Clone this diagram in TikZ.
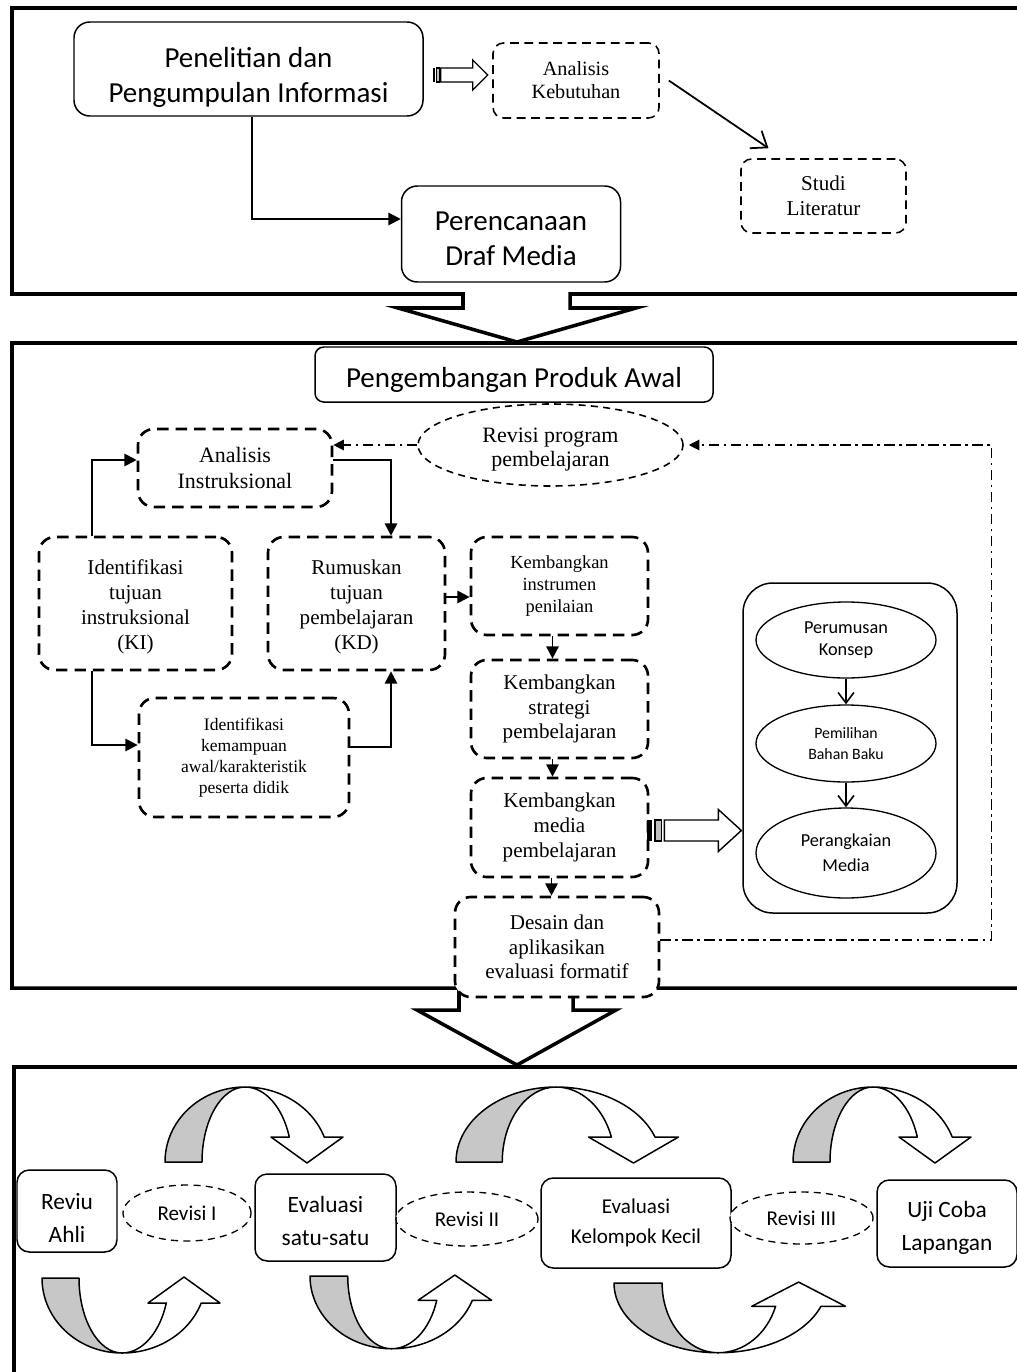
\documentclass[tikz,border=0pt]{standalone}
\usepackage{fontspec}
\setmainfont{Liberation Serif}
\newfontfamily\calfont{Carlito}
\usepackage{tikz}
\usetikzlibrary{arrows.meta,calc,shapes.geometric}

\newlength\pxu
\setlength\pxu{0.02cm}
\newcommand{\lift}[1]{\rule{0pt}{#1}}

\newcommand{\stripearrow}[6]{%
  \begin{scope}[shift={#1}]
    \fill (0,-#5) rectangle (0.3*#2,#5) ;
    \draw [fill=black!25, line width=0.6pt] (0.45*#2,-#5) rectangle (0.85*#2,#5) ;
    \draw [fill=white, line width=0.8pt] (#2,-#5) -- (#3,-#5) -- (#3,-#6) -- (#4,0) -- (#3,#6) -- (#3,#5) -- (#2,#5) -- cycle ;
  \end{scope}}

\newcommand{\bandarrow}[3]{%
  \begin{scope}[shift={#1}, xscale=#2, yscale=#3]
    \draw [band, fill=black!22] (0,0) .. controls (0,-41.4) and (35.8,-75) .. (80,-75)
      .. controls (56.3,-75) and (37,-41.4) .. (37,0) -- cycle ;
    \draw [band, fill=white] (80,-75) .. controls (115.6,-75) and (147.3,-55) .. (159.2,-25)
      -- (178,-25) -- (142,1) -- (106,-25) -- (124.3,-25)
      .. controls (117.7,-55) and (99.9,-75) .. (80,-75) -- cycle ;
  \end{scope}}

\begin{document}
\begin{tikzpicture}[x=0.02cm, y=-0.02cm,
  sz/.style 2 args={minimum width=#1*\pxu, minimum height=#2*\pxu},
  fs/.style 2 args={font=\fontsize{#1}{#2}\selectfont},
  cfs/.style 2 args={font=\calfont\fontsize{#1}{#2}\selectfont},
  frame/.style={line width=2pt, line join=miter},
  plainbox/.style={draw, line width=0.85pt, rounded corners=8pt, inner sep=0pt, align=center, fill=white},
  thinbox/.style={draw, line width=0.9pt, dash pattern=on 5pt off 3.2pt, rounded corners=6pt, inner sep=0pt, align=center, fill=white},
  thickbox/.style={draw, line width=1.5pt, dash pattern=on 6.5pt off 4pt, rounded corners=9pt, inner sep=0pt, align=center, fill=white},
  oval/.style={draw, ellipse, line width=0.75pt, inner sep=0pt, align=center, fill=white},
  dashoval/.style={oval, dash pattern=on 4pt off 3pt},
  conn/.style={line width=1.1pt, -{Triangle[length=7pt,width=7pt]}},
  barb/.style={line width=1pt, -{Straight Barb[length=8pt,width=12pt]}},
  vbarb/.style={line width=0.9pt, -{Straight Barb[length=6pt,width=9pt]}},
  dd/.style={line width=0.7pt, dash pattern=on 6pt off 2.5pt on 1.5pt off 2.5pt, -{Triangle[length=6pt,width=6pt]}},
  band/.style={line width=0.85pt, line join=round}]

\useasboundingbox (0,0) rectangle (1017,1372) ;
\clip (0,0) rectangle (1017,1372) ;

\draw [frame] (1030,8) -- (12,8) -- (12,294) -- (463,294) -- (463,308) -- (398,308) -- (517,342) -- (636,308) -- (570,308) -- (570,294) -- (1030,294) ;
\draw [frame] (1030,343) -- (12,343) -- (12,988) -- (459,988) -- (459,1010) -- (417,1010) -- (517,1065) -- (616,1010) -- (573,1010) -- (573,988) -- (1030,988) ;
\draw [frame] (1030,1067) -- (14,1067) -- (14,1380) ;

\node [plainbox, cfs={16.5}{19.5}, sz={349}{94}, rounded corners=9pt] (penelitian) at (248.5,69) {\lift{21pt}Penelitian dan\\Pengumpulan Informasi} ;
\node [thinbox, fs={11.5}{13}, sz={166}{75}] (kebutuhan) at (576,80.5) {Analisis\\Kebutuhan} ;
\node [thinbox, fs={12}{14.5}, sz={165}{74}] (literatur) at (823.5,196) {Studi\\Literatur} ;
\node [plainbox, cfs={16.5}{19.5}, sz={219}{96}, rounded corners=9pt] (perencanaan) at (511,234) {\lift{16pt}Perencanaan\\Draf Media} ;

\draw [conn] ($(penelitian.south)+(3.5,0)$) |- ($(perencanaan.west)+(0,-15)$) ;
\stripearrow{($(penelitian.east)+(9,6)$)}{8}{40}{55}{7}{15}
\draw [barb] ($(kebutuhan.east)+(9,0)$) -- ($(literatur.north)+(-55,-10)$) ;

\node [plainbox, cfs={16.5}{19.5}, sz={398}{55}, rounded corners=5pt] (produk) at (514,374.5) {\lift{18pt}Pengembangan Produk Awal} ;
\node [dashoval, fs={12.5}{13.5}, sz={265}{82}, line width=0.9pt] (revprog) at (550.5,445) {\lift{13.5pt}Revisi program\\pembelajaran} ;
\node [thickbox, fs={12.5}{14.5}, sz={194}{78}] (analisis) at (235,468) {Analisis\\Instruksional} ;
\node [thickbox, fs={12}{14.2}, sz={193}{133}] (idtujuan) at (135.5,603.5) {\lift{12pt}Identifikasi\\tujuan\\instruksional\\(KI)} ;
\node [thickbox, fs={12}{14.2}, sz={177}{133}] (rumuskan) at (356.5,603.5) {\lift{12pt}Rumuskan\\tujuan\\pembelajaran\\(KD)} ;
\node [thickbox, fs={10}{12}, sz={210}{119}] (idawal) at (244,757.5) {Identifikasi\\kemampuan\\awal/karakteristik\\peserta didik} ;
\node [thickbox, fs={10.5}{12.5}, sz={177}{98}] (instrumen) at (559.5,586) {Kembangkan\\instrumen\\penilaian} ;
\node [thickbox, fs={12}{14}, sz={177}{98}] (strategi) at (559.5,709) {Kembangkan\\strategi\\pembelajaran} ;
\node [thickbox, fs={12}{14}, sz={177}{99}] (media) at (559.5,827.5) {Kembangkan\\media\\pembelajaran} ;
\node [thickbox, fs={12}{13.8}, sz={204}{100}] (desain) at (557,947) {Desain dan\\aplikasikan\\evaluasi formatif} ;

\node [draw, line width=0.85pt, rounded corners=17pt, sz={214}{330}] (wadah) at (850,748) {} ;
\node [oval, cfs={10.4}{12.5}, sz={180}{76}] (konsep) at (846,640) {Perumusan\\Konsep} ;
\node [oval, cfs={9}{12}, sz={180}{77}] (bahan) at (846,743.5) {Pemilihan\\Bahan Baku} ;
\node [oval, cfs={10.4}{14}, sz={180}{90}] (rangkai) at (846,853) {Perangkaian\\Media} ;

\draw [dd] (revprog.west) -- (revprog.west -| analisis.east) ;
\draw [dd] ($(desain.east)+(0,-7)$) -- ++(331,0) |- ($(revprog.east)+(5,0)$) ;
\draw [conn] ($(idtujuan.north)+(-43.5,0)$) |- ($(analisis.west)+(0,-8)$) ;
\draw [conn] ($(analisis.east)+(0,-8)$) -| ($(rumuskan.north)+(34.5,0)$) ;
\draw [conn] ($(idtujuan.south)+(-43.5,0)$) |- ($(idawal.west)+(0,-12.5)$) ;
\draw [conn] ($(idawal.east)+(0,-10.5)$) -| ($(rumuskan.south)+(34.5,0)$) ;
\coordinate (kd) at ($(rumuskan.east)+(0,-6.5)$) ;
\draw [conn] (kd) -- (kd -| instrumen.west) ;
\coordinate (k1) at ($(instrumen.south)+(-7,0)$) ;
\draw [conn] (k1) -- (k1 |- strategi.north) ;
\coordinate (k2) at ($(strategi.south)+(-7,0)$) ;
\draw [conn] (k2) -- (k2 |- media.north) ;
\coordinate (k3) at ($(media.south)+(-8,0)$) ;
\draw [conn] (k3) -- (k3 |- desain.north) ;
\stripearrow{($(media.east)+(-2,3)$)}{17}{71}{94}{10.5}{21}
\draw [vbarb] (konsep.south) -- (bahan.north) ;
\draw [vbarb] (bahan.south) -- (rangkai.north) ;

\node [plainbox, cfs={13.3}{18.7}, sz={100}{82}, rounded corners=7pt] (reviu) at (67,1211) {\lift{17pt}Reviu\\Ahli} ;
\node [dashoval, cfs={12}{14}, sz={128}{56}] (rev1) at (187,1213) {Revisi I} ;
\node [plainbox, cfs={13.3}{18.7}, sz={141}{87}, rounded corners=7pt] (satu) at (325.5,1217.5) {\lift{13pt}Evaluasi\\satu-satu} ;
\node [dashoval, cfs={12}{14}, sz={142}{54}] (rev2) at (467,1219) {Revisi II} ;
\node [plainbox, cfs={12}{17}, sz={190}{90}, rounded corners=7pt] (kecil) at (636,1223) {Evaluasi\\Kelompok Kecil} ;
\node [dashoval, cfs={12}{14}, sz={143}{52}] (rev3) at (801.5,1218) {Revisi III} ;
\node [plainbox, cfs={13.3}{18.7}, sz={140}{87}, rounded corners=7pt] (lapangan) at (947,1223.5) {\lift{14pt}Uji Coba\\Lapangan} ;

\bandarrow{(165,1162)}{1}{1}
\bandarrow{(456,1162)}{1.25}{1}
\bandarrow{(793,1162)}{1}{1}
\bandarrow{(42,1278)}{1}{-1}
\bandarrow{(310,1276)}{1.02}{-0.97}
\bandarrow{(614,1283)}{1.3}{-0.93}

\end{tikzpicture}
\end{document}
